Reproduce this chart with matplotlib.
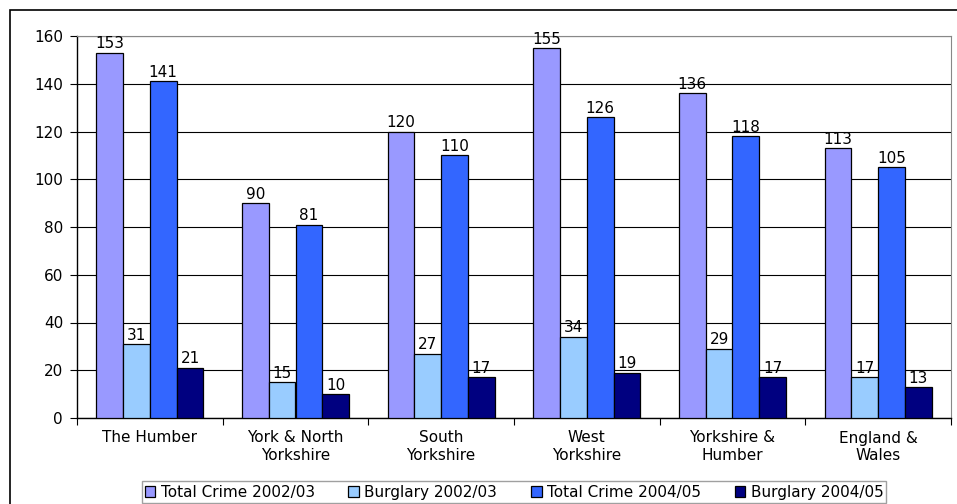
import matplotlib
matplotlib.use("Agg")
import matplotlib.pyplot as plt
import numpy as np
from matplotlib.patches import Rectangle

categories = ["The Humber", "York & North\nYorkshire", "South\nYorkshire",
              "West\nYorkshire", "Yorkshire &\nHumber", "England &\nWales"]
series_names = ["Total Crime 2002/03", "Burglary 2002/03",
                "Total Crime 2004/05", "Burglary 2004/05"]
total_0203 = [153, 90, 120, 155, 136, 113]
burglary_0203 = [31, 15, 27, 34, 29, 17]
total_0405 = [141, 81, 110, 126, 118, 105]
burglary_0405 = [21, 10, 17, 19, 17, 13]
colors = ["#9999FF", "#99CCFF", "#3366FF", "#000080"]

plt.rcParams["font.family"] = "DejaVu Sans"
plt.rcParams["font.size"] = 11

W, H = 957, 504
fig = plt.figure(figsize=(W / 100, H / 100), dpi=100)

# outer chart border (cropped on right and bottom)
fig.patches.append(Rectangle((10 / W, -0.1), 1.2, (H - 10) / H + 0.1,
                             transform=fig.transFigure, fill=False,
                             edgecolor="black", linewidth=1.2))

ax = fig.add_axes([77 / W, (H - 418) / H, 874 / W, 382 / H])

x = np.arange(len(categories))
w = 0.184
data = [total_0203, burglary_0203, total_0405, burglary_0405]
for i, (vals, c, name) in enumerate(zip(data, colors, series_names)):
    bars = ax.bar(x + (i - 1.5) * w, vals, w, color=c, edgecolor="black",
                  linewidth=0.9, label=name, zorder=3)
    ax.bar_label(bars, padding=1, fontsize=11)

ax.set_xlim(-0.5, len(categories) - 0.5)
ax.set_ylim(0, 160)
ax.set_yticks(range(0, 161, 20))
ax.yaxis.grid(True, color="black", linewidth=0.8, zorder=0)
ax.set_xticks(x)
ax.set_xticklabels(categories, fontsize=11, linespacing=1.2)
ax.set_xticks(np.arange(-0.5, len(categories), 1), minor=True)
ax.tick_params(axis="x", which="major", length=0, pad=9)
ax.tick_params(axis="x", which="minor", length=5, width=0.8)
ax.tick_params(axis="y", length=5, width=0.8, pad=5)

for s in ["top", "right"]:
    ax.spines[s].set_color("#888888")
for s in ["left", "bottom"]:
    ax.spines[s].set_color("black")
    ax.spines[s].set_linewidth(1.0)

leg = fig.legend(loc="center", bbox_to_anchor=(514 / W, (H - 492) / H), ncol=4,
                 frameon=True, fancybox=False, handlelength=0.7, handleheight=0.7,
                 handletextpad=0.35, columnspacing=2.2, borderpad=0.2,
                 fontsize=11)
leg.get_frame().set_edgecolor("#888888")
leg.get_frame().set_linewidth(1.0)

fig.savefig("out.png", dpi=100)
